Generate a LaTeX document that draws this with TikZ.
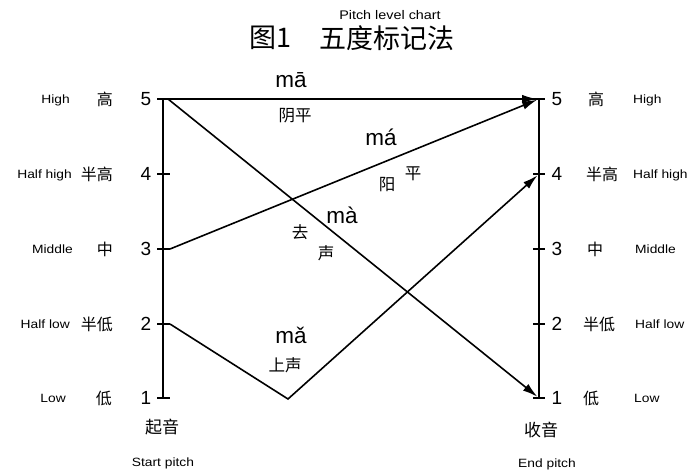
\documentclass[tikz,border=0pt]{standalone}
\usepackage{fontspec}
\setmainfont{Liberation Sans}
\newfontfamily\cjk{Noto Sans CJK SC}
\newfontfamily\engf[FakeStretch=1.15]{Liberation Sans}
\usetikzlibrary{arrows.meta}
\begin{document}
\begin{tikzpicture}[x=1pt,y=-1pt,
  ax/.style={line width=1.6pt},
  tone/.style={line width=1.6pt,line join=miter,shorten >=2pt,-{Latex[length=15pt,width=8.5pt]}},
  num/.style={font=\fontsize{19}{19}\selectfont,inner sep=0pt},
  zh/.style={font=\cjk\fontsize{16}{16}\selectfont,inner sep=0pt},
  zhs/.style={font=\cjk\fontsize{16.5}{16.5}\selectfont,inner sep=0pt},
  en/.style={font=\engf\fontsize{12}{12}\selectfont,inner sep=0pt,text height=8.5pt,text depth=0pt},
  py/.style={font=\fontsize{22.5}{22.5}\selectfont,inner sep=0pt,anchor=base},
  ttl/.style={font=\cjk\fontsize{27}{27}\selectfont,inner sep=0pt}]
\useasboundingbox (0,0) rectangle (691,472);
\fill[white] (0,0) rectangle (691,472);
% axis points
\foreach \n/\y in {5/99,4/174,3/249,2/324,1/398}{
  \coordinate (L\n) at (163,\y);
  \coordinate (R\n) at (539,\y);
}
\coordinate (V) at (288,399);
% axes and ticks
\draw[ax] (L5) -- (L1);
\draw[ax] (R5) -- (R1);
\foreach \n in {1,...,5}{
  \draw[ax] ([xshift=-6pt]L\n) -- ([xshift=7pt]L\n);
  \draw[ax] ([xshift=-6pt]R\n) -- ([xshift=6pt]R\n);
}
% tone contours
\draw[tone] (L5) -- (R5);
\draw[tone] ([xshift=7pt]L3) -- (R5);
\draw[tone] ([xshift=5pt]L5) -- (R1);
\draw[tone] ([xshift=7pt]L2) -- (V) -- (R4);
% title
\node[font=\engf\fontsize{12.5}{12.5}\selectfont,inner sep=0pt] (sub) at (390,15) {Pitch level chart};
\node[ttl] (fig) at (270,38) {图1};
\node[ttl] (title) at (387,38) {五度标记法};
% left labels
\node[num] (nL5) at (146,99) {5};
\node[num] (nL4) at (146,174) {4};
\node[num] (nL3) at (146,249) {3};
\node[num] (nL2) at (146,324) {2};
\node[num] (nL1) at (146,398) {1};
\node[zh,anchor=east] (cL5) at (113,99) {高};
\node[zh,anchor=east] (cL4) at (113,174) {半高};
\node[zh,anchor=east] (cL3) at (113,249) {中};
\node[zh,anchor=east] (cL2) at (113,324) {半低};
\node[zh,anchor=east] (cL1) at (112,398) {低};
\node[en,anchor=east] (eL5) at (70,99) {High};
\node[en,anchor=east] (eL4) at (72,174) {Half high};
\node[en,anchor=east] (eL3) at (73,249) {Middle};
\node[en,anchor=east] (eL2) at (70,324) {Half low};
\node[en,anchor=east] (eL1) at (66,398) {Low};
% right labels
\node[num] (nR5) at (557,99) {5};
\node[num] (nR4) at (557,174) {4};
\node[num] (nR3) at (557,249) {3};
\node[num] (nR2) at (557,324) {2};
\node[num] (nR1) at (557,398) {1};
\node[zh,anchor=west] (cR5) at (588,99) {高};
\node[zh,anchor=west] (cR4) at (586,174) {半高};
\node[zh,anchor=west] (cR3) at (587,249) {中};
\node[zh,anchor=west] (cR2) at (583,324) {半低};
\node[zh,anchor=west] (cR1) at (583,398) {低};
\node[en,anchor=west] (eR5) at (633,99) {High};
\node[en,anchor=west] (eR4) at (633,174) {Half high};
\node[en,anchor=west] (eR3) at (635,249) {Middle};
\node[en,anchor=west] (eR2) at (635,324) {Half low};
\node[en,anchor=west] (eR1) at (634,398) {Low};
% bottom labels
\node[zh,font=\cjk\fontsize{17}{17}\selectfont] (start) at (162,427) {起音};
\node[en] (startE) at (163,462) {Start pitch};
\node[zh,font=\cjk\fontsize{17}{17}\selectfont] (end) at (541,430) {收音};
\node[en] (endE) at (547,463) {End pitch};
% tone labels
\node[py] (ma1) at (291,87) {mā};
\node[zhs] (t1) at (295,116) {阴平};
\node[py] (ma2) at (381,145) {má};
\node[zhs] (t2a) at (387,185) {阳};
\node[zhs] (t2b) at (413,174) {平};
\node[py] (ma4) at (342,223) {mà};
\node[zhs] (t4a) at (300,232) {去};
\node[zhs] (t4b) at (326,253) {声};
\node[py] (ma3) at (291,343) {mǎ};
\node[zhs] (t3) at (285,365) {上声};
\end{tikzpicture}
\end{document}
